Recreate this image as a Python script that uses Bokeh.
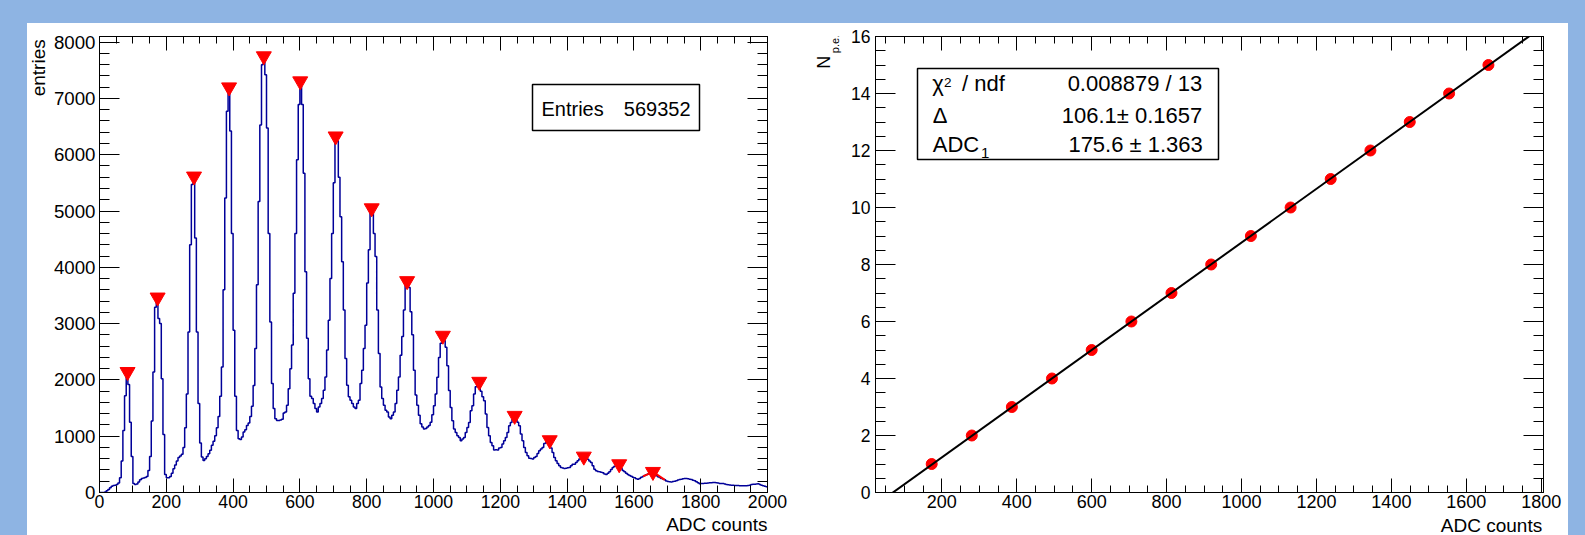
import math
import numpy as np
from bokeh.plotting import figure
from bokeh.models import (LinearAxis, FixedTicker, Label, BoxAnnotation, Spacer,
                          GlobalInlineStyleSheet, Range1d)
from bokeh.layouts import row, column
from bokeh.embed import file_html
from bokeh.resources import INLINE

# ---------------- data ----------------
BIN_WIDTH = 5          # ADC counts per histogram bin, histogram spans 0..2000
counts = [
    0, 0, 0, 10, 30, 55, 85, 110, 125, 130, 140, 170, 260, 560, 1100, 1720, 2080, 1920, 1250, 640,
    160, 140, 150, 185, 225, 250, 258, 265, 285, 390, 640, 1270, 2140, 3290, 3400, 3090, 3000, 2020, 1030, 320,
    260, 262, 285, 340, 420, 490, 560, 620, 650, 680, 800, 1150, 1750, 2850, 4400, 5470, 5550, 4520, 2850, 1580,
    880, 630, 570, 600, 640, 690, 750, 840, 910, 1010, 1150, 1350, 1710, 2230, 3600, 5230, 6770, 7130, 6420, 4600,
    2880, 1710, 1100, 955, 940, 985, 1075, 1115, 1190, 1235, 1350, 1530, 1900, 2560, 3690, 5170, 6530, 7600, 7690, 7420,
    6475, 4600, 3030, 1935, 1490, 1310, 1280, 1280, 1290, 1300, 1410, 1430, 1550, 1845, 2200, 2620, 3540, 4600, 5910, 6890,
    7240, 6890, 5670, 3920, 2740, 2020, 1710, 1670, 1580, 1490, 1430, 1520, 1580, 1670, 1815, 2050, 2530, 3060, 3800, 4600,
    5500, 6260, 6250, 5600, 4900, 4100, 3240, 2380, 1905, 1700, 1640, 1580, 1520, 1490, 1580, 1640, 1935, 2170, 2560, 2970,
    3720, 4310, 4990, 4980, 4600, 4190, 3240, 2470, 1875, 1670, 1550, 1460, 1430, 1340, 1310, 1370, 1430, 1580, 1815, 2050,
    2440, 2770, 3240, 3700, 3690, 3640, 3210, 2800, 2170, 1730, 1550, 1370, 1220, 1165, 1130, 1135, 1165, 1190, 1250, 1380,
    1540, 1750, 2045, 2400, 2650, 2730, 2700, 2580, 2250, 1810, 1510, 1275, 1127, 1067, 1008, 978, 920, 950, 978, 1067,
    1156, 1245, 1453, 1540, 1750, 1880, 1910, 1890, 1800, 1700, 1630, 1394, 1156, 1008, 890, 830, 753, 760, 755, 789,
    800, 860, 920, 978, 1067, 1186, 1245, 1300, 1320, 1290, 1250, 1186, 1038, 920, 800, 712, 652, 610, 605, 593,
    623, 640, 694, 741, 771, 800, 872, 885, 890, 860, 790, 712, 623, 563, 516, 474, 445, 435, 427, 430,
    440, 445, 474, 504, 500, 534, 563, 593, 610, 610, 600, 610, 590, 560, 534, 474, 415, 385, 374, 368,
    360, 350, 330, 320, 340, 368, 410, 445, 465, 470, 468, 450, 427, 390, 368, 340, 320, 300, 290, 270,
    260, 245, 237, 250, 270, 285, 300, 315, 330, 340, 340, 335, 320, 300, 280, 265, 250, 240, 225, 205,
    195, 190, 185, 195, 200, 210, 220, 230, 237, 245, 249, 247, 243, 235, 231, 219, 210, 190, 175, 154,
    158, 160, 165, 166, 170, 172, 175, 178, 176, 172, 168, 162, 160, 158, 150, 142, 138, 132, 130, 128,
    126, 125, 124, 122, 120, 119, 118, 120, 125, 130, 142, 145, 148, 150, 154, 140, 130, 120, 113, 100,
]

# peaks found in the spectrum (red triangles)
peak_adc = [84, 174, 283, 388, 492, 601, 707, 815, 921, 1028, 1137, 1243, 1348, 1450, 1556, 1657]
peak_height = [2143, 3466, 5615, 7199, 7751, 7306, 6327, 5051, 3757, 2787, 1969, 1364, 931, 640, 504, 368]

# calibration graph: number of photo-electrons vs peak position
npe = [1, 2, 3, 4, 5, 6, 7, 8, 9, 10, 11, 12, 13, 14, 15]
npe_adc = [173, 280, 387, 494, 600, 706, 813, 919, 1025, 1131, 1238, 1344, 1449, 1554, 1659]

# linear fit result
FIT_DELTA = 106.1
FIT_ADC1 = 175.6
entries_value = "569352"
fit_chi2_text = "0.008879 / 13"
fit_delta_text = "106.1\u00b1 0.1657"
fit_adc1_text = "175.6 \u00b1 1.363"

# ranges
XL0, XL1 = 0, 2000
YL1 = 8100
XR0, XR1 = 23, 1806
YR1 = 16

FONT = "Liberation Sans"
BG_BLUE = "#8EB4E3"
HIST_COLOR = "#000099"
MID_K = 0.3465      # distance from the alphabetic baseline to the middle of the text box, in em
ROT_SHIFT = 9       # rotated labels come out this many px lower; compensate

# ---------------- geometry (page pixels) ----------------
TOP = 23            # white panel top
PANEL_X0 = 27       # white panel left
ROW_BOT = 514       # bottom of the plot row
PAGE_BOT = 535
FR_TOP, FR_BOT = 36, 492
LT_X1 = 50          # small strip holding the rotated "entries"
L_X1 = 790          # left figure right edge
M_X1 = 848          # middle strip (holds N p.e.)
R_X1 = 1568
LF_X0, LF_X1 = 99, 767
RF_X0, RF_X1 = 875, 1543


def lx(px):
    return XL0 + (px - LF_X0) * (XL1 - XL0) / (LF_X1 - LF_X0)


def ly(py):
    return (FR_BOT - py) * YL1 / (FR_BOT - FR_TOP)


def rx(px):
    return XR0 + (px - RF_X0) * (XR1 - XR0) / (RF_X1 - RF_X0)


def ry(py):
    return (FR_BOT - py) * YR1 / (FR_BOT - FR_TOP)


def sx_(px):
    return px


def sy_(py):
    return -py


def make_fig(x0, x1, xr, yr, fx0, fx1):
    p = figure(width=x1 - x0, height=ROW_BOT - TOP, x_range=xr, y_range=yr,
               output_backend="svg", toolbar_location=None,
               min_border_left=fx0 - x0, min_border_right=x1 - fx1,
               min_border_top=FR_TOP - TOP, min_border_bottom=ROW_BOT - FR_BOT,
               background_fill_color="white", border_fill_color="white",
               outline_line_color="black", outline_line_width=1)
    p.xgrid.grid_line_color = None
    p.ygrid.grid_line_color = None
    return p


def text_strip(x0, x1, y0, y1):
    """A bare white figure whose frame is the whole figure, in page-pixel units."""
    p = figure(width=x1 - x0, height=y1 - y0, x_range=Range1d(x0, x1), y_range=Range1d(-y1, -y0),
               output_backend="svg", toolbar_location=None,
               x_axis_type=None, y_axis_type=None,
               min_border=0, min_border_left=0, min_border_right=0,
               min_border_top=0, min_border_bottom=0,
               background_fill_color="white", border_fill_color="white",
               outline_line_color=None)
    p.title.visible = False
    p.title.standoff = 0
    p.xgrid.grid_line_color = None
    p.ygrid.grid_line_color = None
    return p


def style_axis(ax, major, minor, tin, tmin, size, standoff, show=True):
    ax.ticker = FixedTicker(ticks=major, minor_ticks=minor)
    ax.major_tick_in = tin
    ax.major_tick_out = 0
    ax.minor_tick_in = tmin
    ax.minor_tick_out = 0
    ax.axis_line_color = "black"
    ax.major_tick_line_color = "black"
    ax.minor_tick_line_color = "black"
    ax.major_label_text_font = FONT
    ax.major_label_standoff = standoff
    if show:
        ax.major_label_text_font_size = size
        ax.major_label_text_color = "black"
    else:
        ax.major_label_text_font_size = "0px"
        ax.major_label_text_color = None


def add_frame_axes(p, xmaj, xmin, ymaj, ymin, xsize, ysize, ystand):
    style_axis(p.below[0], xmaj, xmin, 14, 7, xsize, 2)
    style_axis(p.left[0], ymaj, ymin, 20, 10, ysize, ystand)
    top = LinearAxis()
    p.add_layout(top, "above")
    style_axis(top, xmaj, xmin, 14, 7, "0px", 0, show=False)
    right = LinearAxis()
    p.add_layout(right, "right")
    style_axis(right, ymaj, ymin, 20, 10, "0px", 0, show=False)


def label(p, conv_x, conv_y, px, py, text, size, align="left", rotated=False):
    """Place text whose alphabetic baseline passes through page pixel (px, py)."""
    if rotated:
        px = px - MID_K * size
        py = py - ROT_SHIFT
    else:
        py = py - MID_K * size
    p.add_layout(Label(x=conv_x(px), y=conv_y(py), text=text, text_font=FONT,
                       text_font_size=f"{size}px", text_align=align,
                       text_baseline="middle", angle=(math.pi / 2 if rotated else 0.0),
                       text_color="black"))


def stat_box(p, conv_x, conv_y, x0, x1, y0, y1):
    p.add_layout(BoxAnnotation(left=conv_x(x0), right=conv_x(x1), top=conv_y(y0), bottom=conv_y(y1),
                               fill_color="white", fill_alpha=1.0,
                               line_color="black", line_alpha=1.0, line_width=1.5))


# ---------------- left: ADC spectrum ----------------
pl = make_fig(LT_X1, L_X1, Range1d(XL0, XL1), Range1d(0, YL1), LF_X0, LF_X1)
add_frame_axes(pl, list(range(0, 2001, 200)), list(range(0, 2001, 50)),
               list(range(0, 8001, 1000)), list(range(0, 8101, 200)),
               "17.7px", "18.7px", 4)

edges = np.arange(len(counts) + 1) * BIN_WIDTH
vals = np.array(counts, dtype=float)
hx = np.repeat(edges, 2)[1:-1]
hy = np.repeat(vals, 2)
pl.line(hx, hy, line_color=HIST_COLOR, line_width=1.5)

pl.scatter(peak_adc, peak_height, marker="inverted_triangle", size=15,
           fill_color="#FF0000", line_color="#FF0000")

# red segment around the last peak
i0 = int(1625 / BIN_WIDTH)
i1 = int(1690 / BIN_WIDTH)
pl.line([edges[i0] + BIN_WIDTH / 2, peak_adc[-1], edges[i1] + BIN_WIDTH / 2],
        [counts[i0], peak_height[-1], counts[i1]], line_color="#FF0000", line_width=2)

stat_box(pl, lx, ly, 532, 699, 84, 130)
label(pl, lx, ly, 541, 115, "Entries", 20)
label(pl, lx, ly, 690, 115, entries_value, 20, align="right")

# ---------------- right: calibration ----------------
pr = make_fig(M_X1, R_X1, Range1d(XR0, XR1), Range1d(0, YR1), RF_X0, RF_X1)
add_frame_axes(pr, list(range(200, 1801, 200)), list(range(50, 1801, 50)),
               list(range(0, 17, 2)), [v / 2 for v in range(0, 33)],
               "18px", "17.5px", 5)

pr.scatter(npe_adc, npe, marker="circle", size=11, fill_color="#FF0000", line_color="#FF0000")
fx = np.array([XR0, XR1], dtype=float)
fy = (fx - FIT_ADC1) / FIT_DELTA + 1
pr.line(fx, fy, line_color="black", line_width=2)

stat_box(pr, rx, ry, 917, 1218, 68, 159)
label(pr, rx, ry, 931.7, 90.5, "\u03c7", 22)
label(pr, rx, ry, 943.5, 86.5, "2", 13.5)
label(pr, rx, ry, 961.5, 90.5, "/ ndf", 22)
label(pr, rx, ry, 1201.7, 91, fit_chi2_text, 22, align="right")
label(pr, rx, ry, 932.3, 122.5, "\u0394", 22)
label(pr, rx, ry, 1201.7, 122.5, fit_delta_text, 22, align="right")
label(pr, rx, ry, 932.3, 151.7, "ADC", 22)
label(pr, rx, ry, 980.5, 158, "1", 15)
label(pr, rx, ry, 1202.3, 151.7, fit_adc1_text, 22, align="right")

# ---------------- text strips outside the frames ----------------
s_left = text_strip(PANEL_X0, LT_X1, TOP, ROW_BOT)
label(s_left, sx_, sy_, 45, 35, "entries", 19, align="right", rotated=True)

s_mid = text_strip(L_X1, M_X1, TOP, ROW_BOT)
label(s_mid, sx_, sy_, 830, 66.7, "N", 18, rotated=True)
label(s_mid, sx_, sy_, 838.5, 50, "p.e.", 11, rotated=True)

s_bot = text_strip(PANEL_X0, R_X1, ROW_BOT, PAGE_BOT)
label(s_bot, sx_, sy_, LF_X1, 531, "ADC counts", 19, align="right")
label(s_bot, sx_, sy_, 1541.7, 531.5, "ADC counts", 19, align="right")

# ---------------- page layout ----------------
css = GlobalInlineStyleSheet(css=(
    "html, body { margin: 0 !important; padding: 0 !important; "
    "background: " + BG_BLUE + " !important; overflow: hidden; }"))
panel = column(row(s_left, pl, s_mid, pr), s_bot,
               styles={"background-color": "white"})
layout = column(Spacer(width=10, height=TOP),
                row(Spacer(width=PANEL_X0, height=PAGE_BOT - TOP), panel))
layout.stylesheets = [css]

open("out.html", "w").write(file_html(layout, INLINE))
